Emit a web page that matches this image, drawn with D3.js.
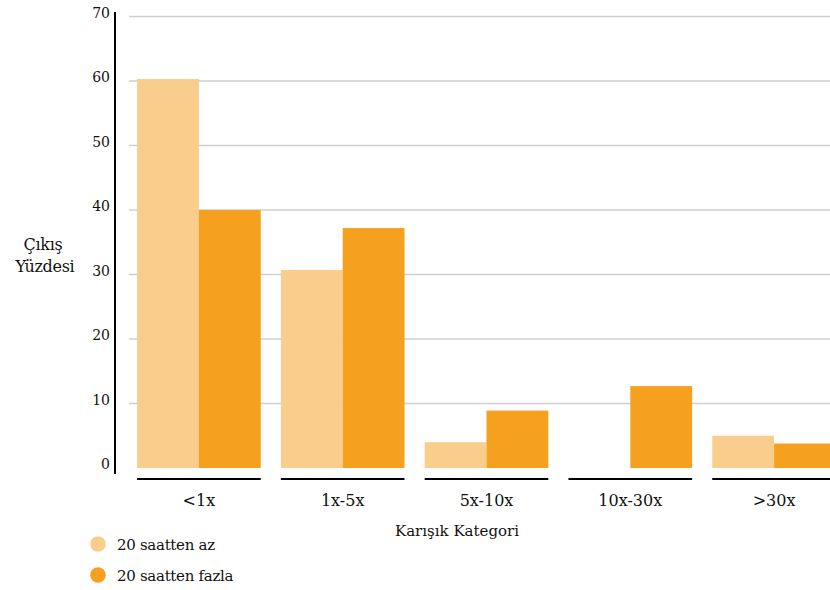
<!DOCTYPE html>
<html>
<head>
<meta charset="utf-8">
<script src="https://cdn.jsdelivr.net/npm/d3@7"></script>
<style>
  html, body { margin: 0; padding: 0; background: #fff; }
  svg { display: block; }
  text { font-family: "DejaVu Serif", "Liberation Serif", serif; fill: #111; }
</style>
</head>
<body>
<svg id="chart" width="830" height="590"></svg>
<script>
// Categories and series
const categories = ["<1x", "1x-5x", "5x-10x", "10x-30x", ">30x"];
const seriesNames = ["20 saatten az", "20 saatten fazla"];
const lessThan20 = [60.3, 30.7, 4.0, 0, 5.0];
const moreThan20 = [40.0, 37.2, 8.9, 12.7, 3.8];
const yTicks = [0, 10, 20, 30, 40, 50, 60, 70];
const colors = ["#F9CD8C", "#F5A01E"];

const rows = categories.map((c, i) => ({ cat: c, values: [lessThan20[i], moreThan20[i]] }));

const svg = d3.select("#chart");
const W = 830;

const y = d3.scaleLinear().domain([0, 70]).range([468, 16.5]);
const x = d3.scaleBand().domain(categories).range([127, 846]).paddingInner(0.14).paddingOuter(0.07);
const xs = d3.scaleBand().domain(seriesNames).range([0, x.bandwidth()]).padding(0);

// Horizontal gridlines
svg.append("g").selectAll("line")
  .data(yTicks.filter(t => t > 0))
  .join("line")
  .attr("x1", 129).attr("x2", W)
  .attr("y1", d => y(d)).attr("y2", d => y(d))
  .attr("stroke", "#cfcfcf").attr("stroke-width", 1.5);

// Y tick labels
svg.append("g").selectAll("text")
  .data(yTicks)
  .join("text")
  .attr("x", 110).attr("y", d => y(d) + 1)
  .attr("text-anchor", "end")
  .attr("font-size", 14)
  .text(d => d);

// Y axis line
svg.append("line")
  .attr("x1", 115).attr("x2", 115)
  .attr("y1", 12).attr("y2", 474)
  .attr("stroke", "#000").attr("stroke-width", 2);

// Bars
const groups = svg.append("g").selectAll("g")
  .data(rows)
  .join("g")
  .attr("transform", d => `translate(${x(d.cat)},0)`);

groups.selectAll("rect")
  .data(d => d.values.map((v, i) => ({ name: seriesNames[i], v, i })))
  .join("rect")
  .attr("x", d => xs(d.name))
  .attr("width", xs.bandwidth())
  .attr("y", d => y(d.v))
  .attr("height", d => y(0) - y(d.v))
  .attr("fill", d => colors[d.i]);

// Category underlines and labels
groups.append("line")
  .attr("x1", 0).attr("x2", x.bandwidth())
  .attr("y1", 479).attr("y2", 479)
  .attr("stroke", "#000").attr("stroke-width", 2);

groups.append("text")
  .attr("x", x.bandwidth() / 2).attr("y", 506)
  .attr("text-anchor", "middle")
  .attr("font-size", 16)
  .text(d => d.cat);

// Axis titles
svg.append("text")
  .attr("x", 457).attr("y", 536)
  .attr("text-anchor", "middle")
  .attr("font-size", 15)
  .text("Karışık Kategori");

const yTitle = svg.append("text")
  .attr("text-anchor", "middle")
  .attr("font-size", 16)
  .attr("letter-spacing", -0.3);
yTitle.append("tspan").attr("x", 43).attr("y", 250).text("Çıkış");
yTitle.append("tspan").attr("x", 45).attr("y", 272).text("Yüzdesi");

// Legend
const legend = svg.append("g").selectAll("g")
  .data(seriesNames)
  .join("g")
  .attr("transform", (d, i) => `translate(98,${544 + i * 31})`);
legend.append("circle").attr("r", 7.8).attr("fill", (d, i) => colors[i]);
legend.append("text")
  .attr("x", 19).attr("y", 5.5)
  .attr("font-size", 15)
  .attr("letter-spacing", -0.3)
  .text(d => d);
</script>
</body>
</html>
